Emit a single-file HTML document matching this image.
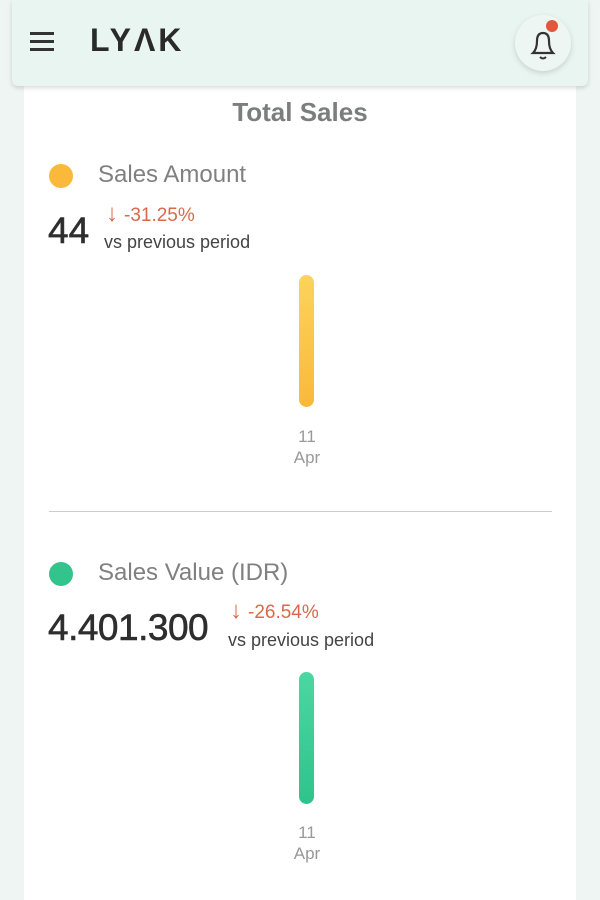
<!DOCTYPE html>
<html><head><meta charset="utf-8"><style>
*{margin:0;padding:0;box-sizing:border-box}
body{width:600px;height:887px;overflow:hidden;background:#eef5f2;font-family:"Liberation Sans",sans-serif;position:relative}
.hdr{position:absolute;left:12px;top:0;width:576px;height:86px;background:#e9f5f1;border-radius:0 0 6px 6px;box-shadow:0 2px 5px rgba(0,0,0,.15);z-index:2}
.card{position:absolute;left:24px;top:80px;width:552px;height:820px;background:#fff}
.abs{position:absolute}
.ham div{position:absolute;left:0;width:24px;height:2.5px;background:#333}
.logo{left:78px;top:22px;font-size:32px;font-weight:bold;color:#2a2a2a;letter-spacing:3px}
.bell{left:503px;top:15px;width:56px;height:56px;border-radius:50%;background:#eef6f3;box-shadow:0 2px 6px rgba(0,0,0,.15)}
.title{left:0;width:600px;top:97px;text-align:center;font-size:26px;font-weight:bold;color:#7a7f7d}
.dot{width:24px;height:24px;border-radius:50%}
.lbl{font-size:24px;color:#808080}
.big{font-size:37px;color:#2e2e2e;-webkit-text-stroke:0.6px #2e2e2e}
.pct{font-size:19px;color:#d9694a}
.pct b{font-weight:normal;font-size:24px;margin-right:6px}
.vs{font-size:18px;color:#444}
.bar{width:15px;border-radius:8px}
.tick{font-size:17px;color:#999;text-align:center;width:40px;line-height:21px}
</style></head><body>
<div class="hdr">
 <div class="abs ham" style="left:18px;top:32px"><div style="top:0"></div><div style="top:8px"></div><div style="top:16px"></div></div>
 <div class="abs logo">LYΛK</div>
 <div class="abs bell">
  <svg width="56" height="56"><path d="M18 38 Q22 34 22 26 Q22 18 28 18 Q34 18 34 26 Q34 34 38 38 Z" fill="none" stroke="#333" stroke-width="2.2"/><path d="M25 42 Q28 45 31 42" fill="none" stroke="#333" stroke-width="2"/><circle cx="37" cy="11" r="6" fill="#e0573c"/></svg>
 </div>
</div>
<div class="card"></div>
<div class="abs title">Total Sales</div>

<div class="abs dot" style="left:49px;top:164px;background:#fbb93b"></div>
<div class="abs lbl" style="left:98px;top:161px">Sales Amount</div>
<div class="abs big" style="left:48px;top:210px">44</div>
<div class="abs pct" style="left:106px;top:200px"><b>↓</b>-31.25%</div>
<div class="abs vs" style="left:104px;top:232px">vs previous period</div>
<div class="abs bar" style="left:299px;top:275px;height:132px;background:linear-gradient(#fdd35a,#f9b93b)"></div>
<div class="abs tick" style="left:287px;top:426px">11<br>Apr</div>

<div class="abs" style="left:49px;top:511px;width:503px;height:1px;background:#ccc"></div>

<div class="abs dot" style="left:49px;top:562px;background:#33c48e"></div>
<div class="abs lbl" style="left:98px;top:559px">Sales Value (IDR)</div>
<div class="abs big" style="left:48px;top:607px;letter-spacing:-0.5px">4.401.300</div>
<div class="abs pct" style="left:230px;top:597px"><b>↓</b>-26.54%</div>
<div class="abs vs" style="left:228px;top:630px">vs previous period</div>
<div class="abs bar" style="left:299px;top:672px;height:132px;background:linear-gradient(#4cd6a2,#2fc38c)"></div>
<div class="abs tick" style="left:287px;top:822px">11<br>Apr</div>
</body></html>
